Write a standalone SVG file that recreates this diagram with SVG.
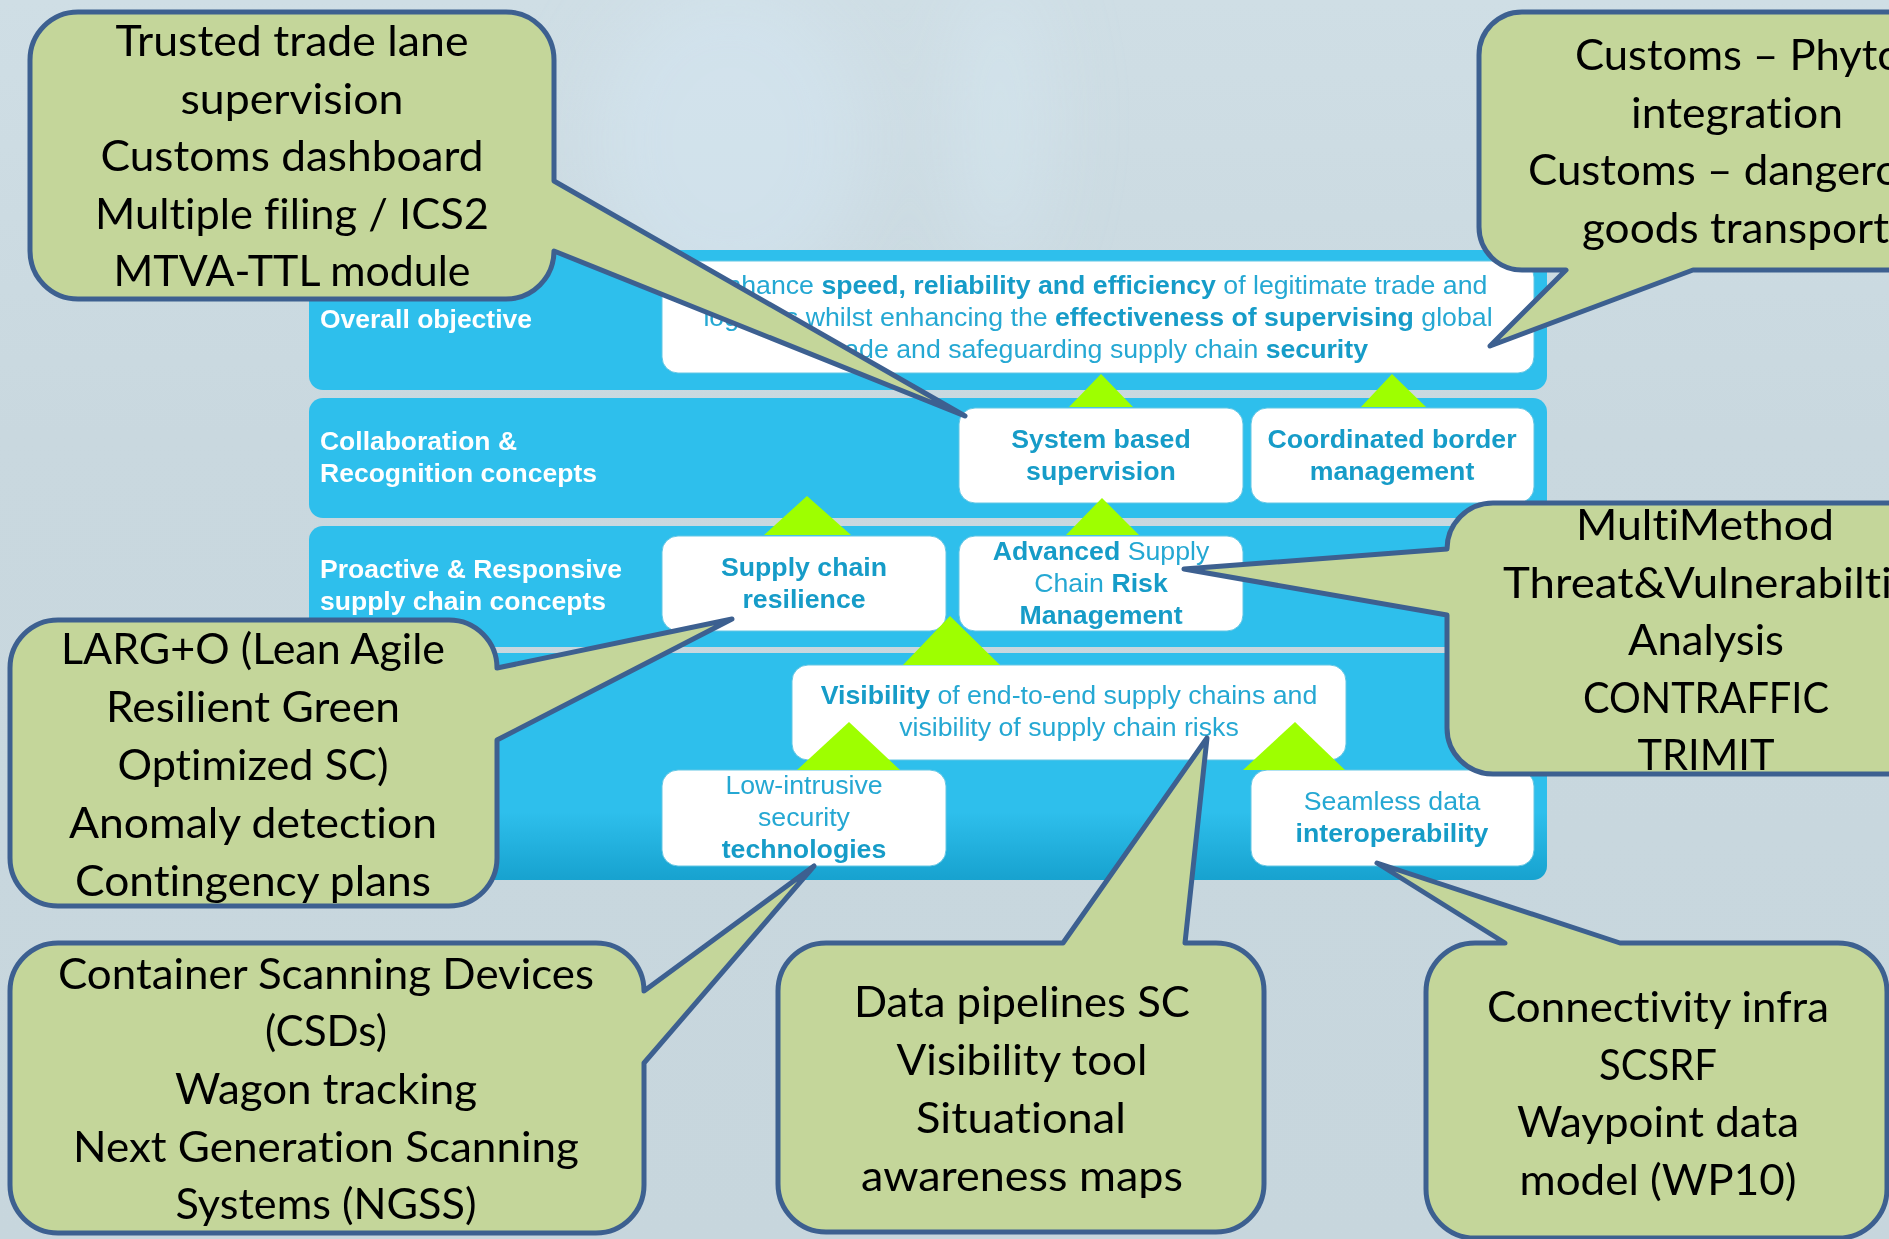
<svg xmlns="http://www.w3.org/2000/svg" width="1889" height="1239" viewBox="0 0 1889 1239">
<defs>
<linearGradient id="bgG" x1="0" y1="0" x2="0" y2="1"><stop offset="0" stop-color="#cfdee5"/><stop offset="0.35" stop-color="#c9d8df"/><stop offset="1" stop-color="#c7d6dd"/></linearGradient>
<linearGradient id="b4" gradientUnits="userSpaceOnUse" x1="0" y1="653" x2="0" y2="880"><stop offset="0" stop-color="#2ebfec"/><stop offset="0.7" stop-color="#2ebfec"/><stop offset="1" stop-color="#17a2cf"/></linearGradient>
<filter id="blur" x="-30%" y="-30%" width="160%" height="160%"><feGaussianBlur stdDeviation="35"/></filter>
<style>
.band{fill:#2ebfec}
.box{fill:#fff;stroke:#63c6e4;stroke-width:1}
.lbl{font-family:"Liberation Sans",Arial,sans-serif;font-size:26px;font-weight:700;fill:#fff}
.t{font-family:"Liberation Sans",Arial,sans-serif;font-size:26.7px;fill:#25a8d3;text-anchor:middle}
.t .b{font-weight:700;fill:#169cc8}
.tri{fill:#9eff00}
.co{fill:#c4d69a;stroke:#3d6090;stroke-width:5;stroke-linejoin:round}
.c{font-family:Lato,"Open Sans",sans-serif;font-size:43px;fill:#000;text-anchor:middle;font-variant-ligatures:none}
.cl{font-family:Lato,"Open Sans",sans-serif;font-size:43px;fill:#000;font-variant-ligatures:none}
</style>
</defs>
<rect width="1889" height="1239" fill="url(#bgG)"/>
<g filter="url(#blur)" fill="#d6e8f4">
<ellipse cx="730" cy="140" rx="140" ry="160" opacity="0.5"/>
<ellipse cx="1000" cy="120" rx="50" ry="150" opacity="0.45"/>
</g>

<g id="bands">
<rect class="band" x="309" y="250" width="1238" height="140" rx="14"/>
<rect class="band" x="309" y="398" width="1238" height="120" rx="14"/>
<rect class="band" x="309" y="526" width="1238" height="121" rx="14"/>
<rect x="309" y="653" width="1238" height="227" rx="14" fill="url(#b4)"/>
<text class="lbl" x="320" y="328" textLength="212" lengthAdjust="spacingAndGlyphs">Overall objective</text>
<text class="lbl" x="320" y="450" textLength="197" lengthAdjust="spacingAndGlyphs">Collaboration &amp;</text>
<text class="lbl" x="320" y="482" textLength="277" lengthAdjust="spacingAndGlyphs">Recognition concepts</text>
<text class="lbl" x="320" y="578" textLength="302" lengthAdjust="spacingAndGlyphs">Proactive &amp; Responsive</text>
<text class="lbl" x="320" y="610" textLength="286" lengthAdjust="spacingAndGlyphs">supply chain concepts</text>
</g>

<g id="node-objective">
<rect class="box" x="662" y="261" width="872" height="112" rx="16"/>
<text class="t" x="1098" y="294">Enhance <tspan class="b">speed, reliability and efficiency</tspan> of legitimate trade and</text>
<text class="t" x="1098" y="326">logistics whilst enhancing the <tspan class="b">effectiveness of supervising</tspan> global</text>
<text class="t" x="1098" y="358">trade and safeguarding supply chain <tspan class="b">security</tspan></text>
</g>
<g id="node-system">
<rect class="box" x="959" y="408" width="284" height="95" rx="16"/>
<text class="t" x="1101" y="448"><tspan class="b">System based</tspan></text>
<text class="t" x="1101" y="480"><tspan class="b">supervision</tspan></text>
</g>
<g id="node-coordinated">
<rect class="box" x="1251" y="408" width="283" height="95" rx="16"/>
<text class="t" x="1392" y="448"><tspan class="b">Coordinated border</tspan></text>
<text class="t" x="1392" y="480"><tspan class="b">management</tspan></text>
</g>
<g id="node-resilience">
<rect class="box" x="662" y="536" width="284" height="95" rx="16"/>
<text class="t" x="804" y="576"><tspan class="b">Supply chain</tspan></text>
<text class="t" x="804" y="608"><tspan class="b">resilience</tspan></text>
</g>
<g id="node-risk">
<rect class="box" x="959" y="536" width="284" height="95" rx="16"/>
<text class="t" x="1101" y="560"><tspan class="b">Advanced</tspan> Supply</text>
<text class="t" x="1101" y="592">Chain <tspan class="b">Risk</tspan></text>
<text class="t" x="1101" y="624"><tspan class="b">Management</tspan></text>
</g>
<g id="node-visibility">
<rect class="box" x="792" y="665" width="554" height="95" rx="16"/>
<text class="t" x="1069" y="704"><tspan class="b">Visibility</tspan> of end-to-end supply chains and</text>
<text class="t" x="1069" y="736">visibility of supply chain risks</text>
</g>
<g id="node-technologies">
<rect class="box" x="662" y="770" width="284" height="96" rx="16"/>
<text class="t" x="804" y="794">Low-intrusive</text>
<text class="t" x="804" y="826">security</text>
<text class="t" x="804" y="858"><tspan class="b">technologies</tspan></text>
</g>
<g id="node-interoperability">
<rect class="box" x="1251" y="770" width="283" height="96" rx="16"/>
<text class="t" x="1392" y="810">Seamless data</text>
<text class="t" x="1392" y="842"><tspan class="b">interoperability</tspan></text>
</g>

<g id="connectors">
<polygon class="tri" points="807,496 764,535 851,535"/>
<polygon class="tri" points="1101,374 1069,407 1133,407"/>
<polygon class="tri" points="1392,374 1361,407 1426,407"/>
<polygon class="tri" points="1102,498 1066,535 1139,535"/>
<polygon class="tri" points="950,616 903,665 1000,665"/>
<polygon class="tri" points="849,722 797,770 900,770"/>
<polygon class="tri" points="1295,722 1243,770 1345,770"/>
</g>

<g id="callout-trade-lane">
<path class="co" d="M78,12 H506 A48,48 0 0 1 554,60 V181 L965,416 L554,251 A48,48 0 0 1 506,299 H78 A48,48 0 0 1 30,251 V60 A48,48 0 0 1 78,12 Z"/>
<text class="c" x="292" y="56" textLength="353" lengthAdjust="spacingAndGlyphs">Trusted trade lane</text>
<text class="c" x="292" y="114" textLength="223" lengthAdjust="spacingAndGlyphs">supervision</text>
<text class="c" x="292" y="171" textLength="383" lengthAdjust="spacingAndGlyphs">Customs dashboard</text>
<text class="c" x="292" y="229" textLength="394" lengthAdjust="spacingAndGlyphs">Multiple filing / ICS2</text>
<text class="c" x="292" y="286" textLength="357" lengthAdjust="spacingAndGlyphs">MTVA-TTL module</text>
</g>
<g id="callout-customs">
<path class="co" d="M1522,12 H1910 V270 H1693 L1490,346 L1566,270 H1522 A43,43 0 0 1 1479,227 V55 A43,43 0 0 1 1522,12 Z"/>
<text class="cl" x="1575" y="70" textLength="327" lengthAdjust="spacingAndGlyphs">Customs – Phyto</text>
<text class="c" x="1737" y="128" textLength="212" lengthAdjust="spacingAndGlyphs">integration</text>
<text class="cl" x="1528" y="185" textLength="372" lengthAdjust="spacingAndGlyphs">Customs – dangero</text>
<text class="cl" x="1582" y="243" textLength="307" lengthAdjust="spacingAndGlyphs">goods transport</text>
</g>
<g id="callout-multimethod">
<path class="co" d="M1493,503 H1910 V774 H1493 A46,46 0 0 1 1447,728 V615 L1184,569 L1447,549 A46,46 0 0 1 1493,503 Z"/>
<text class="c" x="1705" y="540" textLength="258" lengthAdjust="spacingAndGlyphs">MultiMethod</text>
<text class="cl" x="1503" y="598" textLength="389" lengthAdjust="spacingAndGlyphs">Threat&amp;Vulnerabilti</text>
<text class="c" x="1706" y="655" textLength="156" lengthAdjust="spacingAndGlyphs">Analysis</text>
<text class="c" x="1706" y="713" textLength="246" lengthAdjust="spacingAndGlyphs">CONTRAFFIC</text>
<text class="c" x="1706" y="770" textLength="137" lengthAdjust="spacingAndGlyphs">TRIMIT</text>
</g>
<g id="callout-larg">
<path class="co" d="M58,620 H449 A48,48 0 0 1 497,668 L732,619 L497,740 V858 A48,48 0 0 1 449,906 H58 A48,48 0 0 1 10,858 V668 A48,48 0 0 1 58,620 Z"/>
<text class="c" x="253" y="664" textLength="384" lengthAdjust="spacingAndGlyphs">LARG+O (Lean Agile</text>
<text class="c" x="253" y="722" textLength="294" lengthAdjust="spacingAndGlyphs">Resilient Green</text>
<text class="c" x="253" y="780" textLength="271" lengthAdjust="spacingAndGlyphs">Optimized SC)</text>
<text class="c" x="253" y="838" textLength="368" lengthAdjust="spacingAndGlyphs">Anomaly detection</text>
<text class="c" x="253" y="896" textLength="356" lengthAdjust="spacingAndGlyphs">Contingency plans</text>
</g>
<g id="callout-scanning">
<path class="co" d="M58,943 H596 A48,48 0 0 1 644,991 L814,866 L644,1063 V1185 A48,48 0 0 1 596,1233 H58 A48,48 0 0 1 10,1185 V991 A48,48 0 0 1 58,943 Z"/>
<text class="c" x="326" y="989" textLength="536" lengthAdjust="spacingAndGlyphs">Container Scanning Devices</text>
<text class="c" x="326" y="1046" textLength="122" lengthAdjust="spacingAndGlyphs">(CSDs)</text>
<text class="c" x="326" y="1104" textLength="302" lengthAdjust="spacingAndGlyphs">Wagon tracking</text>
<text class="c" x="326" y="1162" textLength="506" lengthAdjust="spacingAndGlyphs">Next Generation Scanning</text>
<text class="c" x="326" y="1219" textLength="301" lengthAdjust="spacingAndGlyphs">Systems (NGSS)</text>
</g>
<g id="callout-data">
<path class="co" d="M826,943 H1063 L1207,738 L1185,943 H1216 A48,48 0 0 1 1264,991 V1184 A48,48 0 0 1 1216,1232 H826 A48,48 0 0 1 778,1184 V991 A48,48 0 0 1 826,943 Z"/>
<text class="c" x="1022" y="1017" textLength="336" lengthAdjust="spacingAndGlyphs">Data pipelines SC</text>
<text class="c" x="1022" y="1075" textLength="251" lengthAdjust="spacingAndGlyphs">Visibility tool</text>
<text class="c" x="1021" y="1133" textLength="210" lengthAdjust="spacingAndGlyphs">Situational</text>
<text class="c" x="1022" y="1191" textLength="322" lengthAdjust="spacingAndGlyphs">awareness maps</text>
</g>
<g id="callout-connectivity">
<path class="co" d="M1475,943 H1505 L1377,863 L1620,943 H1838 A49,49 0 0 1 1887,992 V1189 A49,49 0 0 1 1838,1238 H1475 A49,49 0 0 1 1426,1189 V992 A49,49 0 0 1 1475,943 Z"/>
<text class="c" x="1658" y="1022" textLength="342" lengthAdjust="spacingAndGlyphs">Connectivity infra</text>
<text class="c" x="1658" y="1080" textLength="118" lengthAdjust="spacingAndGlyphs">SCSRF</text>
<text class="c" x="1658" y="1137" textLength="282" lengthAdjust="spacingAndGlyphs">Waypoint data</text>
<text class="c" x="1658" y="1195" textLength="277" lengthAdjust="spacingAndGlyphs">model (WP10)</text>
</g>
</svg>
